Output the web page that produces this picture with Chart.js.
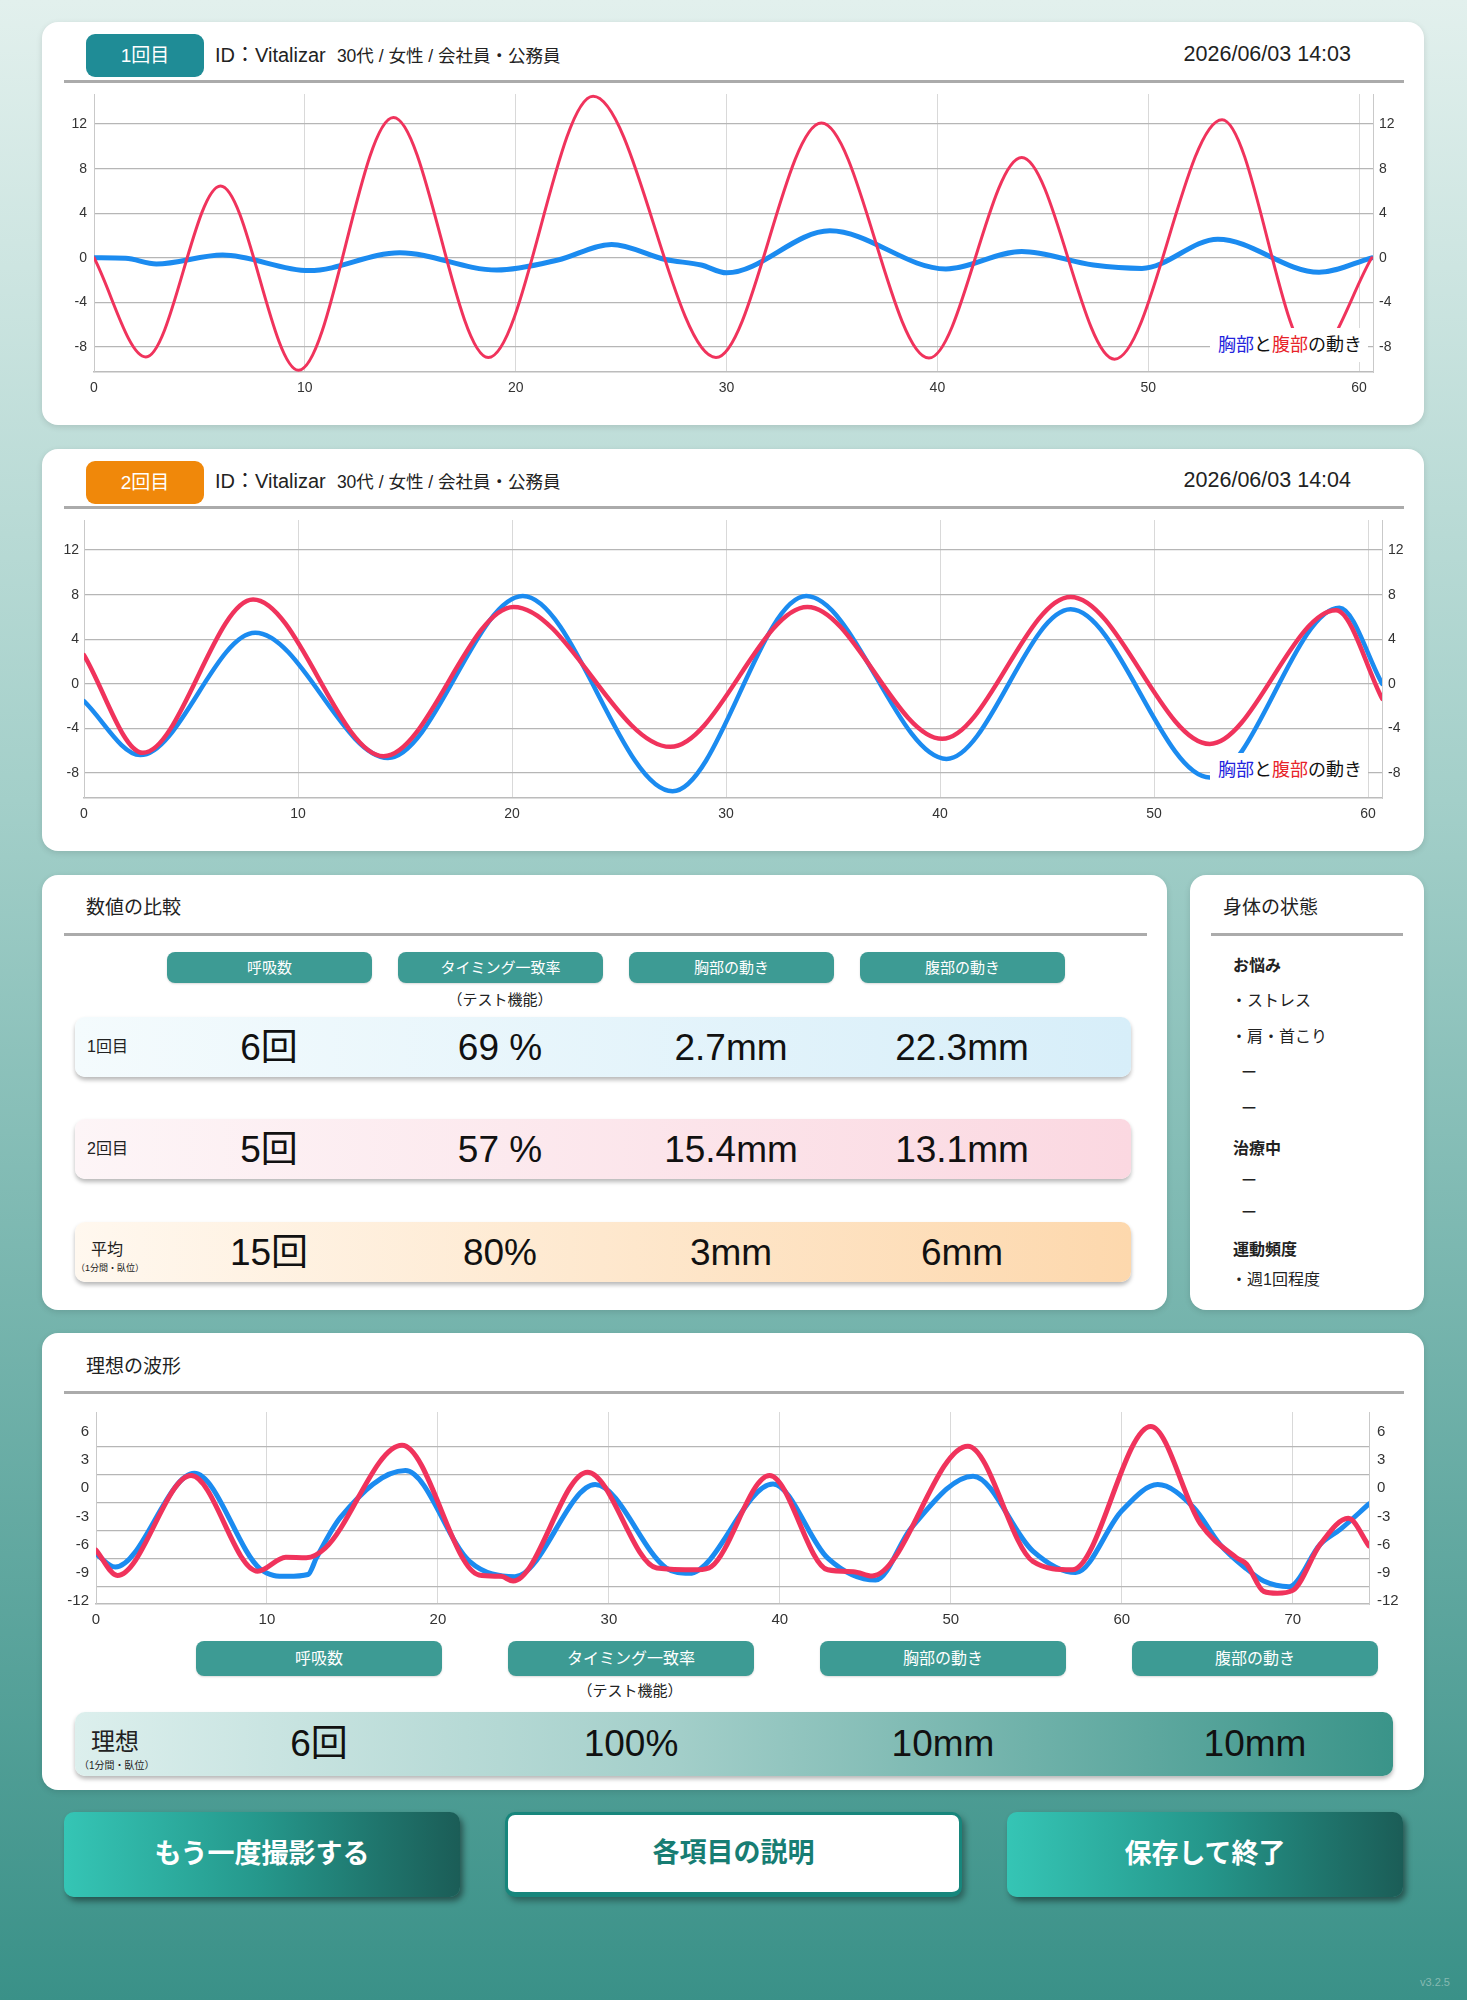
<!DOCTYPE html>
<html lang="ja">
<head>
<meta charset="utf-8">
<script src="https://cdn.jsdelivr.net/npm/chart.js@4.4.1/dist/chart.umd.min.js"></script>
<style>
html,body{margin:0;padding:0;}
body{width:1467px;height:2000px;position:relative;overflow:hidden;
  background:linear-gradient(180deg,#e2f0ed 0%,#a3cfc9 40%,#3a9188 100%);
  font-family:"Liberation Sans","Noto Sans CJK JP",sans-serif;color:#222;}
.card{position:absolute;background:#fff;border-radius:16px;box-shadow:0 2px 6px rgba(0,0,0,.12);}
.hline{position:absolute;height:3px;background:#ababab;}
.t{position:absolute;white-space:nowrap;}
.badge{position:absolute;width:118px;height:43px;border-radius:9px;color:#fff;font-size:19px;line-height:43px;text-align:center;}
.pill{position:absolute;border-radius:8px;background:#3d9b94;color:#fff;text-align:center;box-shadow:0 1px 2px rgba(0,0,0,.15);}
.row{position:absolute;border-radius:10px;box-shadow:0 3px 4px rgba(0,0,0,.28);}
.val{position:absolute;width:240px;text-align:center;font-size:37px;color:#111;}
.chartbox{position:absolute;}
.legend{position:absolute;background:#fff;font-size:18px;height:34px;line-height:34px;width:158px;box-sizing:border-box;padding-left:8px;color:#111;white-space:nowrap;}
.btn{position:absolute;top:1812px;height:85px;border-radius:10px;font-size:27px;font-weight:bold;text-align:center;line-height:85px;box-sizing:border-box;}
.btn.g{background:linear-gradient(90deg,#35c5b5 0%,#25978b 50%,#1b5d57 100%);color:#fff;box-shadow:3px 4px 6px rgba(0,0,0,.45);}
.btn.w{background:#fff;color:#177d73;border:3px solid #17867c;border-bottom-width:5px;box-shadow:3px 4px 6px rgba(0,0,0,.35);line-height:77px;}
</style>
</head>
<body>
<!-- cards -->
<div class="card" style="left:42px;top:22px;width:1382px;height:403px"></div>
<div class="card" style="left:42px;top:449px;width:1382px;height:402px"></div>
<div class="card" style="left:42px;top:875px;width:1125px;height:435px"></div>
<div class="card" style="left:1190px;top:875px;width:234px;height:435px"></div>
<div class="card" style="left:42px;top:1333px;width:1382px;height:457px"></div>

<!-- run 1 header -->
<div class="badge" style="left:86px;top:34px;background:#1f8c96">1回目</div>
<div class="t" style="left:215px;top:41px;height:28px;line-height:28px;font-size:20px">ID：Vitalizar&nbsp;&nbsp;<span style="font-size:17.5px">30代 / 女性 / 会社員・公務員</span></div>
<div class="t" style="right:116px;top:40px;height:28px;line-height:28px;font-size:21.5px">2026/06/03 14:03</div>
<div class="hline" style="left:64px;top:80px;width:1340px"></div>
<div class="chartbox" style="left:50px;top:94px;width:1368px;height:312px"><canvas id="c1"></canvas></div>
<div class="legend" style="left:1210px;top:328px"><span style="color:#2323dd">胸部</span>と<span style="color:#e8232a">腹部</span>の動き</div>

<!-- run 2 header -->
<div class="badge" style="left:86px;top:461px;background:#f0880a">2回目</div>
<div class="t" style="left:215px;top:467px;height:28px;line-height:28px;font-size:20px">ID：Vitalizar&nbsp;&nbsp;<span style="font-size:17.5px">30代 / 女性 / 会社員・公務員</span></div>
<div class="t" style="right:116px;top:466px;height:28px;line-height:28px;font-size:21.5px">2026/06/03 14:04</div>
<div class="hline" style="left:64px;top:506px;width:1340px"></div>
<div class="chartbox" style="left:40px;top:520px;width:1382px;height:312px"><canvas id="c2"></canvas></div>
<div class="legend" style="left:1210px;top:753px"><span style="color:#2323dd">胸部</span>と<span style="color:#e8232a">腹部</span>の動き</div>

<!-- comparison -->
<div class="t" style="left:86px;top:895px;height:26px;line-height:26px;font-size:19px">数値の比較</div>
<div class="hline" style="left:64px;top:933px;width:1083px"></div>
<div id="cmp"></div>

<!-- body state -->
<div class="t" style="left:1223px;top:895px;height:26px;line-height:26px;font-size:19px">身体の状態</div>
<div class="hline" style="left:1211px;top:933px;width:192px"></div>
<div id="state"></div>

<!-- ideal -->
<div class="t" style="left:86px;top:1354px;height:26px;line-height:26px;font-size:19px">理想の波形</div>
<div class="hline" style="left:64px;top:1391px;width:1340px"></div>
<div class="chartbox" style="left:50px;top:1412px;width:1364px;height:224px"><canvas id="c3"></canvas></div>
<div id="ideal"></div>

<!-- buttons -->
<div class="btn g" style="left:64px;width:396px">もう一度撮影する</div>
<div class="btn w" style="left:505px;width:457px">各項目の説明</div>
<div class="btn g" style="left:1007px;width:396px">保存して終了</div>
<div class="t" style="left:1420px;top:1976px;font-size:11px;color:#86bab2">v3.2.5</div>

<script>
// ---------- data ----------
const xTicksRun = [0, 10, 20, 30, 40, 50, 60];
const yTicksRun = [-8, -4, 0, 4, 8, 12];
const xTicksIdeal = [0, 10, 20, 30, 40, 50, 60, 70];
const yTicksIdeal = [-12, -9, -6, -3, 0, 3, 6];

const run1AbdTime  = [0, 2.46, 6.0, 9.7, 14.2, 18.7, 23.67, 29.5, 34.5, 39.6, 44.0, 48.4, 53.5, 57.8, 60.6];
const run1AbdValue = [0, -8.9, 6.45, -10.1, 12.6, -8.95, 14.5, -8.95, 12.1, -9.0, 9.0, -9.1, 12.4, -9.0, 0];
const run1ChestTime  = [0, 1.5, 2.96, 6.1, 10.2, 14.5, 19.1, 22.0, 24.55, 27.1, 28.8, 30.0, 34.9, 40.4, 44.0, 47.4, 49.7, 53.3, 58.1, 60.6];
const run1ChestValue = [0, -0.05, -0.55, 0.25, -1.15, 0.45, -1.1, -0.2, 1.2, -0.15, -0.65, -1.35, 2.42, -1.0, 0.57, -0.65, -0.95, 1.67, -1.3, 0];

const run2AbdTime  = [0, 2.75, 7.9, 14.0, 20.07, 27.4, 33.8, 40.1, 46.1, 52.6, 58.5, 60.66];
const run2AbdValue = [2.57, -6.2, 7.57, -6.5, 6.9, -5.66, 6.9, -4.94, 7.8, -5.4, 6.6, -1.35];
const run2ChestTime  = [0, 2.63, 8.0, 14.2, 20.5, 27.5, 33.75, 40.3, 46.1, 52.6, 58.66, 60.66];
const run2ChestValue = [-1.56, -6.4, 4.58, -6.65, 7.87, -9.64, 7.87, -6.74, 6.68, -8.4, 6.83, 0];

const idealAbdTime  = [0, 1.25, 5.56, 9.45, 11.1, 12.3, 13.4, 17.9, 22.4, 23.7, 24.4, 28.75, 32.8, 35.2, 36.0, 39.4, 42.8, 44.3, 45.4, 51.0, 54.8, 57.1, 61.7, 64.6, 66.7, 67.3, 68.3, 69.1, 70.0, 71.6, 73.25, 74.46];
const idealAbdValue = [-6.6, -9.3, 1.36, -8.85, -7.35, -7.4, -6.4, 4.6, -9.25, -9.4, -9.9, 1.73, -8.5, -8.7, -8.35, 1.37, -8.7, -8.9, -9.36, 4.5, -7.8, -8.7, 6.6, -3.8, -7.4, -8.1, -11.0, -11.2, -10.9, -6.0, -3.2, -6.15];
const idealChestTime  = [0, 1.13, 5.75, 9.6, 11.2, 12.4, 12.9, 14.3, 18.1, 21.85, 24.5, 29.2, 33.35, 34.7, 39.6, 42.8, 45.6, 47.7, 51.3, 54.8, 57.3, 60.0, 62.1, 64.2, 65.75, 67.3, 68.3, 69.8, 71.6, 72.8, 74.46];
const idealChestValue = [-7.0, -8.4, 1.6, -8.6, -9.4, -9.2, -7.4, -3.1, 1.9, -7.8, -9.43, 0.4, -8.5, -9.07, 0.47, -7.45, -9.8, -4.2, 1.3, -6.7, -9.0, -2.4, 0.4, -2.05, -6.0, -8.6, -9.9, -10.5, -6.0, -4.35, -1.67];

const columnHeaders = ['呼吸数', 'タイミング一致率', '胸部の動き', '腹部の動き'];
const rowLabels = ['1回目', '2回目', '平均'];
const run1Values = ['6回', '69 %', '2.7mm', '22.3mm'];
const run2Values = ['5回', '57 %', '15.4mm', '13.1mm'];
const averageValues = ['15回', '80%', '3mm', '6mm'];
const idealValues = ['6回', '100%', '10mm', '10mm'];
const stateItems = [['h','お悩み'],['i','・ストレス'],['i','・肩・首こり'],['d','ー'],['d','ー'],['h','治療中'],['d','ー'],['d','ー'],['h','運動頻度'],['i','・週1回程度']];

// ---------- HTML blocks ----------
function el(parent, cls, style, html) {
  const d = document.createElement('div');
  d.className = cls; d.setAttribute('style', style); d.innerHTML = html;
  parent.appendChild(d); return d;
}
const cmp = document.getElementById('cmp');
const pillLeft = [167, 398, 629, 860];
columnHeaders.forEach((h, i) => el(cmp, 'pill', `left:${pillLeft[i]}px;top:952px;width:205px;height:31px;line-height:31px;font-size:15px`, h));
el(cmp, 't', 'left:400px;width:200px;text-align:center;top:989px;height:22px;line-height:22px;font-size:15px', '（テスト機能）');
const rowTops = [1017, 1119, 1222];
const rowBg = ['linear-gradient(90deg,#f4fbfd,#d7eef9)', 'linear-gradient(90deg,#fdf5f7,#fbd8e1)', 'linear-gradient(90deg,#fff8ef,#fdd8ad)'];
const rowVals = [run1Values, run2Values, averageValues];
rowTops.forEach((top, r) => {
  el(cmp, 'row', `left:75px;top:${top}px;width:1056px;height:60px;background:${rowBg[r]}`, '');
  if (r < 2) {
    el(cmp, 't', `left:87px;top:${top + 19}px;height:22px;line-height:22px;font-size:16px`, rowLabels[r]);
  } else {
    el(cmp, 't', `left:91px;top:${top + 18}px;height:20px;line-height:20px;font-size:16px`, rowLabels[r]);
    el(cmp, 't', `left:76px;top:${top + 40}px;height:12px;line-height:12px;font-size:9px`, '（1分間・臥位）');
  }
  rowVals[r].forEach((v, c) => el(cmp, 'val', `left:${pillLeft[c] + 102 - 120}px;top:${top + 6}px;height:50px;line-height:50px`, v));
});

const st = document.getElementById('state');
const stateY = [966, 1001, 1037, 1073, 1109, 1149, 1181, 1213, 1250, 1280];
stateItems.forEach((it, i) => {
  const left = it[0] === 'h' ? 1233 : (it[0] === 'i' ? 1231 : 1241);
  el(st, 't', `left:${left}px;top:${stateY[i] - 11}px;height:22px;line-height:22px;font-size:16px;${it[0] === 'h' ? 'font-weight:bold;' : ''}`, it[1]);
});

const ideal = document.getElementById('ideal');
const idealPill = [196, 508, 820, 1132];
columnHeaders.forEach((h, i) => el(ideal, 'pill', `left:${idealPill[i]}px;top:1641px;width:246px;height:35px;line-height:35px;font-size:16px`, h));
el(ideal, 't', 'left:530px;width:200px;text-align:center;top:1680px;height:22px;line-height:22px;font-size:15px', '（テスト機能）');
el(ideal, 'row', 'left:75px;top:1712px;width:1318px;height:64px;background:linear-gradient(90deg,#dcefed 0%,#a4cfca 45%,#3a9489 100%)', '');
el(ideal, 't', 'left:91px;top:1727px;height:30px;line-height:30px;font-size:24px', '理想');
el(ideal, 't', 'left:79px;top:1759px;height:13px;line-height:13px;font-size:10px', '（1分間・臥位）');
idealValues.forEach((v, c) => el(ideal, 'val', `left:${idealPill[c] + 123 - 120}px;top:1719px;height:50px;line-height:50px`, v));

// ---------- charts ----------
const RED = '#f0335c', BLUE = '#1b8bf0';
function pts(t, v) { return t.map((x, i) => ({x: x, y: v[i]})); }

function makeChart(id, o) {
  const font = {family: '"Liberation Sans", "Noto Sans CJK JP", sans-serif', size: o.fontSize};
  const yBase = (pos, w, pad, grid) => ({
    type: 'linear', position: pos, min: o.yMin, max: o.yMax,
    afterBuildTicks(s) { s.ticks = o.yTicks.map(v => ({value: v})); },
    afterFit(s) { s.width = w; s.paddingTop = 0; s.paddingBottom = 0; s.paddingLeft = 0; s.paddingRight = 0; },
    ticks: {padding: pad, color: '#333', font: font},
    grid: grid,
    border: {display: true, color: '#c9c9c9', width: 1}
  });
  new Chart(document.getElementById(id), {
    type: 'line',
    data: {datasets: [
      {data: pts(o.abdT, o.abdV), borderColor: RED, borderWidth: o.redW, order: 0},
      {data: pts(o.chestT, o.chestV), borderColor: BLUE, borderWidth: o.blueW, order: 1}
    ]},
    options: {
      responsive: true, maintainAspectRatio: false, animation: false,
      events: [],
      layout: {padding: 0},
      elements: {point: {radius: 0}, line: {cubicInterpolationMode: 'monotone', fill: false, borderCapStyle: 'round', borderJoinStyle: 'round'}},
      plugins: {legend: {display: false}, tooltip: {enabled: false}},
      scales: {
        x: {
          type: 'linear', min: 0, max: o.xMax,
          afterBuildTicks(s) { s.ticks = o.xTicks.map(v => ({value: v})); },
          afterFit(s) { s.height = o.xH; s.paddingLeft = 0; s.paddingRight = 0; s.paddingTop = 0; s.paddingBottom = 0; },
          ticks: {padding: o.xPad, color: '#333', font: font, maxRotation: 0, autoSkip: false},
          grid: {color: '#d9d9d9', lineWidth: 1, drawTicks: false},
          border: {display: true, color: '#bcbcbc', width: 1.5}
        },
        y: yBase('left', o.leftW, o.leftPad, o.offsetGrid ? {
          offset: true, drawTicks: false, lineWidth: 1.2,
          color: c => (c.type === 'tick' ? '#b6b6b6' : 'rgba(0,0,0,0)')
        } : {drawTicks: false, lineWidth: 1.2, color: '#b6b6b6'}),
        y2: yBase('right', o.rightW, o.rightPad, {display: false, drawTicks: false})
      }
    }
  });
}

makeChart('c1', {abdT: run1AbdTime, abdV: run1AbdValue, chestT: run1ChestTime, chestV: run1ChestValue,
  xMax: 60.66, yMin: -10.25, yMax: 14.7, xTicks: xTicksRun, yTicks: yTicksRun,
  leftW: 44, rightW: 45, xH: 34, leftPad: 7, rightPad: 6, xPad: 8, fontSize: 14, redW: 3, blueW: 5});
makeChart('c2', {abdT: run2AbdTime, abdV: run2AbdValue, chestT: run2ChestTime, chestV: run2ChestValue,
  xMax: 60.65, yMin: -10.25, yMax: 14.7, xTicks: xTicksRun, yTicks: yTicksRun,
  leftW: 44, rightW: 40, xH: 34, leftPad: 5, rightPad: 6, xPad: 8, fontSize: 14, redW: 4.5, blueW: 4.5});
makeChart('c3', {abdT: idealAbdTime, abdV: idealAbdValue, chestT: idealChestTime, chestV: idealChestValue,
  xMax: 74.46, yMin: -12.35, yMax: 8.15, xTicks: xTicksIdeal, yTicks: yTicksIdeal, offsetGrid: true,
  leftW: 46, rightW: 45, xH: 32, leftPad: 7, rightPad: 8, xPad: 7, fontSize: 15, redW: 5, blueW: 5});
</script>
</body>
</html>
